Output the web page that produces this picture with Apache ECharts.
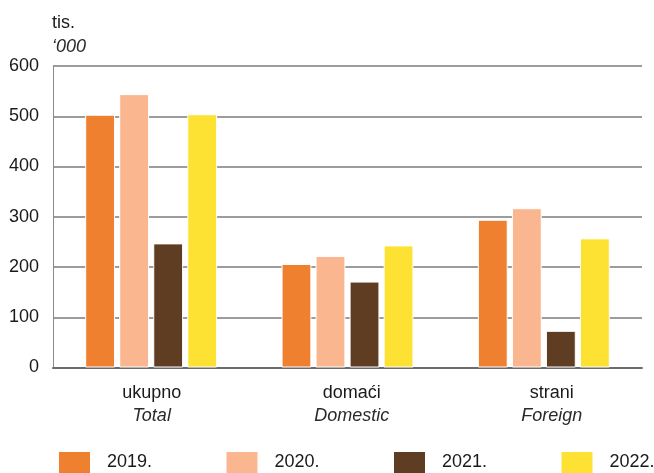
<!DOCTYPE html>
<html><head><meta charset="utf-8">
<script src="https://cdn.jsdelivr.net/npm/echarts@6/dist/echarts.min.js"></script>
<style>html,body{margin:0;padding:0;background:#fff}#c{width:654px;height:473px}</style>
</head><body><div id="c"></div>
<script>
const categoriesHr = ['ukupno', 'domaći', 'strani'];
const categoriesEn = ['Total', 'Domestic', 'Foreign'];
const years = ['2019.', '2020.', '2021.', '2022.'];
const v2019 = [503, 206, 294];
const v2020 = [544, 222, 317];
const v2021 = [247, 171, 73];
const v2022 = [504, 243, 257];
const yTicks = [0, 100, 200, 300, 400, 500, 600];
const colors = ['#EF8030', '#F9B68F', '#5F3D22', '#FDE233'];
const values = [v2019, v2020, v2021, v2022];

const FONT = '"Liberation Sans Narrow", "Liberation Sans", Arial, sans-serif';
const FS = 18;
const chart = echarts.init(document.getElementById('c'), null, {renderer: 'canvas'});
const legendLefts = [57, 224.5, 392, 559.5];
chart.setOption({
  animation: false,
  textStyle: {fontFamily: FONT},
  grid: [
    {left: 53, right: 12, top: 66, bottom: 105.5},
    {left: 51.7, right: 2.3, top: 66, bottom: 105.5}
  ],
  xAxis: [
    {type: 'category', gridIndex: 0, data: categoriesHr,
     axisLine: {show: true, lineStyle: {color: '#6b6b6b', width: 2}},
     axisTick: {show: false}, axisLabel: {show: false}, splitLine: {show: false}},
    {type: 'category', gridIndex: 1, data: categoriesHr.map((c, i) => c + '\n' + categoriesEn[i]),
     axisLine: {show: false}, axisTick: {show: false},
     axisLabel: {
       margin: 15,
       formatter: v => { const p = v.split('\n'); return '{a|' + p[0] + '}\n{b|' + p[1] + '}'; },
       rich: {
         a: {fontFamily: FONT, fontSize: FS, color: '#1a1a1a', lineHeight: 22},
         b: {fontFamily: FONT, fontSize: FS, fontStyle: 'italic', color: '#2a2a2a', lineHeight: 22}
       }
     }}
  ],
  yAxis: [
    {type: 'value', gridIndex: 0, min: yTicks[0], max: yTicks[yTicks.length - 1], interval: 100,
     name: '{a|tis.}\n{b|‘000}',
     nameLocation: 'end', nameGap: 8,
     nameTextStyle: {align: 'left', verticalAlign: 'bottom', padding: [0, 0, 0, -1],
       rich: {
         a: {fontFamily: FONT, fontSize: FS, color: '#1a1a1a', lineHeight: 23},
         b: {fontFamily: FONT, fontSize: FS, fontStyle: 'italic', color: '#2a2a2a', lineHeight: 23}
       }},
     axisLine: {show: true, lineStyle: {color: '#8a8a8a', width: 1}},
     axisTick: {show: false},
     axisLabel: {margin: 14, fontFamily: FONT, fontSize: FS, color: '#1a1a1a'},
     splitLine: {show: true, lineStyle: {color: '#9c9c9c', width: 2}}},
    {type: 'value', gridIndex: 1, show: false, min: 0, max: 600}
  ],
  legend: years.map((y, i) => ({
    data: [y], left: legendLefts[i], top: 450, padding: 0,
    itemWidth: 33, itemHeight: 23, icon: 'rect',
    textStyle: {fontFamily: FONT, fontSize: FS, color: '#1a1a1a', padding: [0, 0, 0, 11]}
  })),
  series: years.map((y, i) => ({
    name: y, type: 'bar', xAxisIndex: 0, yAxisIndex: 0,
    data: values[i],
    barCategoryGap: '32.8%', barGap: '14%',
    itemStyle: {color: colors[i], borderColor: '#ffffff', borderWidth: 1}
  }))
});
</script></body></html>
